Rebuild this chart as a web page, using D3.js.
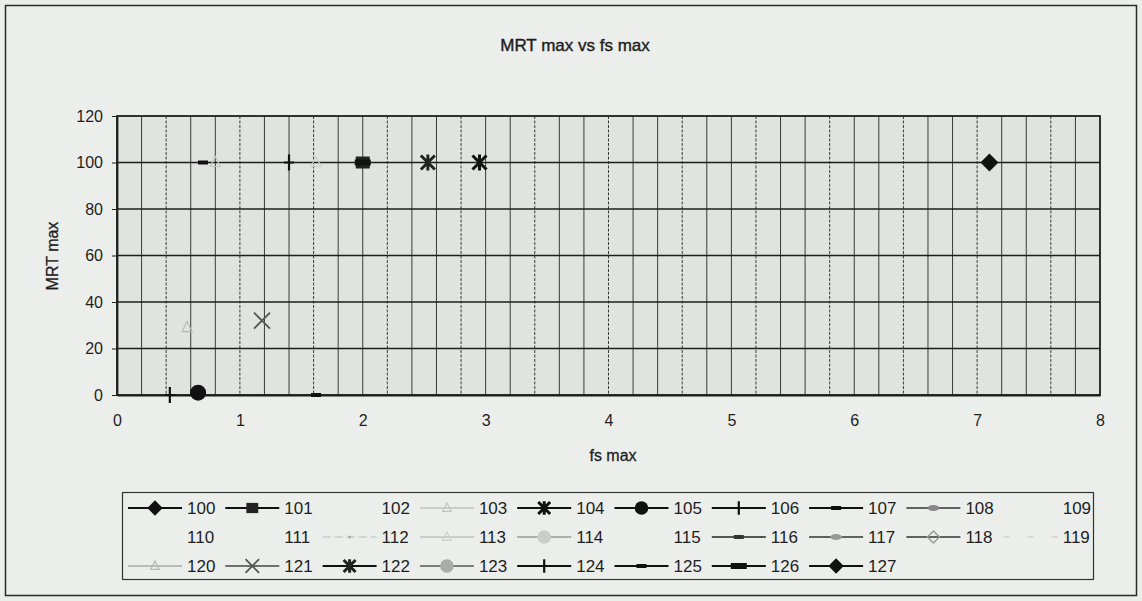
<!DOCTYPE html>
<html><head><meta charset="utf-8">
<script src="https://cdn.jsdelivr.net/npm/d3@7"></script>
<style>
html,body{margin:0;padding:0;background:#eceeec;}
text{font-family:"Liberation Sans",Arial,sans-serif;fill:#1e1e1e;}
</style></head>
<body>
<svg id="c" width="1142" height="601"></svg>
<script>
// ---- data ----
const seriesNames = ["100","101","102","103","104","105","106","107","108","109",
                     "110","111","112","113","114","115","116","117","118","119",
                     "120","121","122","123","124","125","126","127"];
// fs max (x) and MRT max (y) for each series; null = no visible point
const fsMax  = [null, 2.0, null, 0.8, 2.95, 0.66, 1.4, 0.7, null, null,
                null, null, null, 1.62, null, null, null, null, null, null,
                0.57, 1.18, 2.53, null, 0.43, 1.62, 2.0, 7.1];
const mrtMax = [null, 100, null, 100, 100, 1, 100, 100, null, null,
                null, null, null, 100, null, null, null, null, null, null,
                29, 32, 100, null, 0, 0, 100, 100];
const xTicks = [0,1,2,3,4,5,6,7,8];
const yTicks = [0,20,40,60,80,100,120];
const chartTitle = "MRT max  vs fs max";
const xTitle = "fs max";
const yTitle = "MRT max";

// ---- styles (marker, marker colour, line colour, line width) ----
const seriesStyle = [
  ["diamond","#111","#111",2],["square","#222","#111",2],["none","none","none",0],["tri","#c4c4c4","#aaa",1.2],
  ["asterisk","#111","#111",2.2],["circle","#111","#111",2],["plus","#111","#111",2],["dash","#111","#111",2],
  ["oval","#888","#333",1.6],["none","none","none",0],
  ["none","none","none",0],["none","none","none",0],["dot","#aaa","#bbb",1],["tri","#cfcfcf","#aaa",1.2],
  ["circle","#ccc","#999",1.4],["none","none","none",0],["dash","#333","#222",1.6],["oval","#999","#333",1.5],
  ["diamondO","#999","#333",1.5],["none","none","#c4c4c4",1],
  ["tri","#b8b8b8","#aaa",1.4],["x","#555","#444",1.6],["asterisk","#222","#111",2],["circle","#aaa","#555",1.6],
  ["plus","#111","#111",2],["dash","#111","#111",2],["thickdash","#111","#111",2],["diamond","#111","#111",2]
];

function drawMarker(g, type, col, big){
  const k = big ? 1 : 0.85;
  switch(type){
    case "diamond": g.append("path").attr("d",`M0,${-9*k}L${9*k},0L0,${9*k}L${-9*k},0Z`).attr("fill",col); break;
    case "diamondO": g.append("path").attr("d",`M0,-6L6,0L0,6L-6,0Z`).attr("fill","none").attr("stroke",col).attr("stroke-width",1.5); break;
    case "square": g.append("rect").attr("x",-7*k).attr("y",-6*k).attr("width",14*k).attr("height",12*k).attr("fill",col); break;
    case "circle": g.append("circle").attr("r",8*k).attr("fill",col); break;
    case "oval": g.append("ellipse").attr("rx",6).attr("ry",3).attr("fill",col); break;
    case "dot": g.append("circle").attr("r",1.5).attr("fill",col); break;
    case "tri": g.append("path").attr("d",`M0,${-6*k}L${5*k},${4*k}L${-5*k},${4*k}Z`).attr("fill","none").attr("stroke",col).attr("stroke-width",1.2); break;
    case "asterisk": g.append("path").attr("d",`M${-7*k},${-7*k}L${7*k},${7*k}M${7*k},${-7*k}L${-7*k},${7*k}M0,${-8*k}L0,${8*k}`).attr("stroke",col).attr("stroke-width",3).attr("fill","none"); break;
    case "x": g.append("path").attr("d",`M${-8*k},${-8*k}L${8*k},${8*k}M${8*k},${-8*k}L${-8*k},${8*k}`).attr("stroke",col).attr("stroke-width",1.8).attr("fill","none"); break;
    case "plus": g.append("path").attr("d",`M${-5*k},0L${5*k},0M0,${-8*k}L0,${8*k}`).attr("stroke",col).attr("stroke-width",2.2).attr("fill","none"); break;
    case "dash": g.append("rect").attr("x",-5).attr("y",-2).attr("width",10).attr("height",4).attr("fill",col); break;
    case "thickdash": g.append("rect").attr("x",-8).attr("y",-3).attr("width",16).attr("height",6).attr("fill",col); break;
  }
}

const svg = d3.select("#c");
// outer chart border
svg.append("rect").attr("x",5.5).attr("y",5.5).attr("width",1131).attr("height",590)
  .attr("fill","#eceeec").attr("stroke","#2a2a2a").attr("stroke-width",1.5);

const L=117, R=1100, T=116, B=395;
const x = d3.scaleLinear().domain([0,8]).range([L,R]);
const y = d3.scaleLinear().domain([0,120]).range([B,T]);

// plot area
svg.append("rect").attr("x",L).attr("y",T).attr("width",R-L).attr("height",B-T).attr("fill","#e1e3e1");

// vertical grid every 0.2
const vGrid = d3.range(1,40).map(i=>i*0.2);
svg.append("g").selectAll("line").data(vGrid).join("line")
  .attr("x1",d=>x(d)).attr("x2",d=>x(d)).attr("y1",T).attr("y2",B)
  .attr("stroke","#3a3a3a").attr("stroke-width",1)
  .attr("stroke-dasharray",(d,i)=> (i%3===1) ? "3,1.5" : null);
// horizontal grid
svg.append("g").selectAll("line").data(yTicks.slice(1,-1)).join("line")
  .attr("x1",L).attr("x2",R).attr("y1",d=>y(d)).attr("y2",d=>y(d))
  .attr("stroke","#1e1e1e").attr("stroke-width",1.6);
// plot border
svg.append("rect").attr("x",L).attr("y",T).attr("width",R-L).attr("height",B-T)
  .attr("fill","none").attr("stroke","#1e1e1e").attr("stroke-width",1.8);

// axes
const ya = svg.append("g").attr("transform",`translate(${L},0)`)
  .call(d3.axisLeft(y).tickValues(yTicks).tickSize(5).tickSizeOuter(0).tickPadding(9));
ya.select(".domain").attr("stroke","#1e1e1e").attr("stroke-width",1.8);
ya.selectAll(".tick line").attr("stroke","#1e1e1e");
ya.selectAll("text").attr("font-size",16).style("font-family","Liberation Sans, Arial");

const xa = svg.append("g").attr("transform",`translate(0,${B})`)
  .call(d3.axisBottom(x).tickValues(xTicks).tickSize(0).tickSizeOuter(0).tickPadding(20));
xa.select(".domain").attr("stroke","#1e1e1e").attr("stroke-width",1.8);
xa.selectAll("text").attr("font-size",16).style("font-family","Liberation Sans, Arial");

// titles
svg.append("text").attr("x",575).attr("y",51).attr("text-anchor","middle").attr("font-size",17)
  .style("stroke","#1e1e1e").style("stroke-width",0.4).text(chartTitle);
svg.append("text").attr("x",613).attr("y",461).attr("text-anchor","middle").attr("font-size",16)
  .style("stroke","#1e1e1e").style("stroke-width",0.3).text(xTitle);
svg.append("text").attr("transform","translate(58,256) rotate(-90)").attr("text-anchor","middle").attr("font-size",16)
  .style("stroke","#1e1e1e").style("stroke-width",0.3).text(yTitle);

// points
const pts = seriesNames.map((n,i)=>({n,i,fx:fsMax[i],my:mrtMax[i]})).filter(d=>d.fx!==null);
pts.forEach(d=>{
  const s = seriesStyle[d.i];
  const g = svg.append("g").attr("transform",`translate(${x(d.fx)},${y(d.my)})`);
  drawMarker(g, s[0], s[1], true);
});

// legend
svg.append("rect").attr("x",122.5).attr("y",492.5).attr("width",971).attr("height",87)
  .attr("fill","#eceeec").attr("stroke","#333").attr("stroke-width",1.2);
const colW = 97.3, col0 = 187, rowY = [508,537,566];
seriesNames.forEach((n,i)=>{
  const c = i%10, r = Math.floor(i/10);
  const lx = col0 + c*colW, ly = rowY[r];
  const s = seriesStyle[i];
  if(s[2]!=="none"){
    svg.append("line").attr("x1",lx-59).attr("x2",lx-5).attr("y1",ly).attr("y2",ly)
      .attr("stroke",s[2]).attr("stroke-width",s[3])
      .attr("stroke-dasharray", i===19 ? "6,18" : (i===12 ? "8,4" : null));
  }
  const g = svg.append("g").attr("transform",`translate(${lx-32},${ly})`);
  drawMarker(g, s[0], s[1], false);
  svg.append("text").attr("x",lx).attr("y",ly).attr("dy","0.36em").attr("font-size",17).text(n);
});
</script>
</body></html>
